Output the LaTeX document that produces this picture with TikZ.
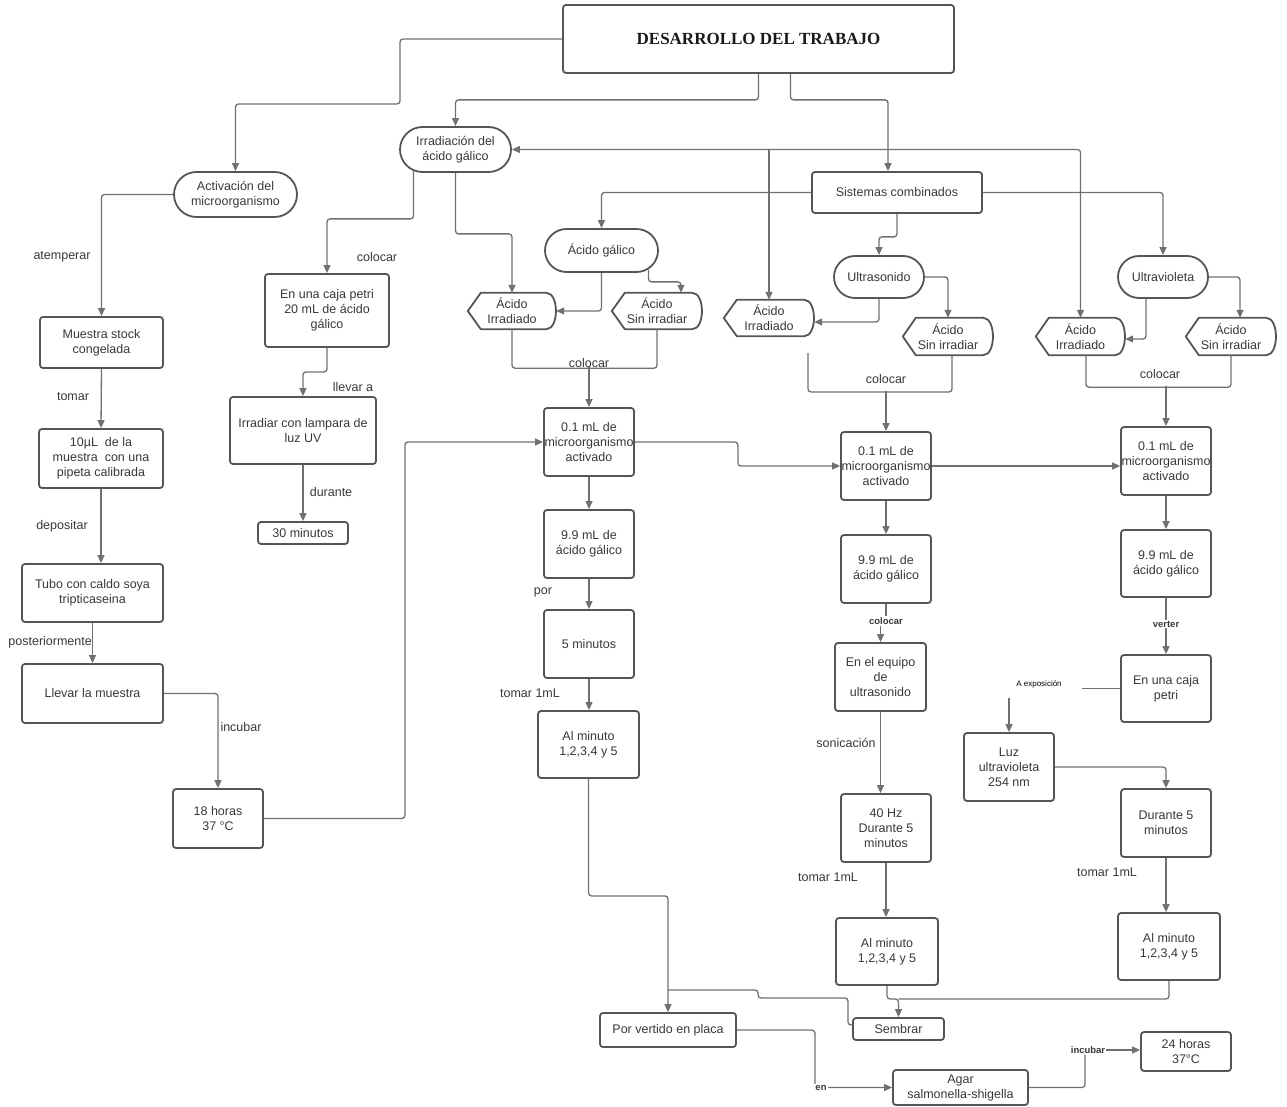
\documentclass[tikz,border=0pt]{standalone}
\usepackage{fontspec}
\setmainfont{Liberation Sans}
\newfontfamily\titlefont{Liberation Serif}
\usetikzlibrary{arrows.meta,shapes.misc,calc}
\definecolor{boxc}{HTML}{555555}
\definecolor{linec}{HTML}{707070}
\definecolor{txtc}{HTML}{383838}
\newcommand{\bxcalc}[4]{%
  \pgfmathsetmacro\bxcx{(#1+#3)/2}%
  \pgfmathsetmacro\bxcy{(#2+#4)/2}%
  \pgfmathsetmacro\bxw{#3-#1}%
  \pgfmathsetmacro\bxh{#4-#2}}
\newcommand{\rbox}[6]{\bxcalc{#2}{#3}{#4}{#5}%
  \node[box,minimum width=\bxw pt,minimum height=\bxh pt] (#1) at (\bxcx,\bxcy) {#6};}
\newcommand{\pbox}[6]{\bxcalc{#2}{#3}{#4}{#5}%
  \node[pill,minimum width=\bxw pt,minimum height=\bxh pt] (#1) at (\bxcx,\bxcy) {#6};}
\newcommand{\hexbox}[6]{\bxcalc{#2}{#3}{#4}{#5}%
  \node[hexs,minimum width=\bxw pt,minimum height=\bxh pt] (#1) at (\bxcx,\bxcy) {#6};
  \draw[hexline] ([xshift=13pt]#1.north west) -- (#1.west) -- ([xshift=13pt]#1.south west)
    -- ([xshift=-10pt]#1.south east) .. controls ([xshift=3pt]#1.south east) and ([xshift=3pt]#1.north east) .. ([xshift=-10pt]#1.north east) -- cycle;}
\begin{document}
\begin{tikzpicture}[x=1pt,y=-1pt,
  every node/.style={font=\fontsize{12.5}{15}\selectfont, text=txtc},
  box/.style={draw=boxc, line width=1.8pt, rounded corners=3pt, inner sep=0pt, align=center},
  pill/.style={draw=boxc, line width=1.8pt, rounded rectangle, inner sep=0pt, align=center},
  hexs/.style={inner sep=0pt, align=center},
  hexline/.style={draw=boxc, line width=1.8pt, line join=round},
  conn/.style={draw=linec, line width=1.3pt, rounded corners=3pt},
  arr/.style={conn, -{Triangle[length=8pt,width=7pt]}},
  dbl/.style={conn, {Triangle[length=8pt,width=7pt]}-{Triangle[length=8pt,width=7pt]}},
  lbl/.style={inner sep=1pt},
  blbl/.style={inner sep=1pt, font=\fontsize{9.5}{11}\selectfont\bfseries},
]
\useasboundingbox (0,0) rectangle (1287,1107);

% ---------- nodes ----------
\bxcalc{563}{5}{954}{73}
\node[box, minimum width=\bxw pt, minimum height=\bxh pt, font=\titlefont\bfseries\fontsize{17}{20}\selectfont, text=black!90] (title) at (\bxcx,\bxcy) {DESARROLLO DEL TRABAJO};

\pbox{act}{174}{172}{297}{217}{Activación del\\microorganismo}
\pbox{irrad}{400}{127}{511}{172}{Irradiación del\\ácido gálico}
\rbox{sist}{812}{172}{982}{213}{Sistemas combinados}
\pbox{agal}{545}{229}{658}{272}{Ácido gálico}
\pbox{ultras}{834}{256}{924}{298}{Ultrasonido}
\pbox{ultrav}{1118}{256}{1208}{298}{Ultravioleta}

\hexbox{irr1}{468}{293}{556}{329}{Ácido\\Irradiado}
\hexbox{sin1}{612}{293}{702}{329}{Ácido\\Sin irradiar}
\hexbox{irr2}{724}{300}{814}{336}{Ácido\\Irradiado}
\hexbox{sin2}{903}{318}{993}{355}{Ácido\\Sin irradiar}
\hexbox{irr3}{1036}{318}{1125}{355}{Ácido\\Irradiado}
\hexbox{sin3}{1186}{318}{1276}{355}{Ácido\\Sin irradiar}

\rbox{muestra}{40}{317}{163}{368}{Muestra stock\\congelada}
\rbox{diez}{39}{429}{163}{488}{10µL\ \ de la\\muestra\ \ con una\\pipeta calibrada}
\rbox{tubo}{22}{564}{163}{622}{Tubo con caldo soya\\tripticaseina}
\rbox{llevar}{22}{664}{163}{723}{Llevar la muestra}
\rbox{diecio}{173}{789}{263}{848}{18 horas\\37 °C}

\rbox{petri}{265}{274}{389}{347}{En una caja petri\\20 mL de ácido\\gálico}
\rbox{irradiar}{230}{397}{376}{464}{Irradiar con lampara de\\luz UV}
\rbox{treinta}{258}{522}{348}{544}{30 minutos}

\rbox{m1}{544}{408}{634}{476}{0.1 mL de\\microorganismo\\activado}
\rbox{b1}{544}{510}{634}{578}{9.9 mL de\\ácido gálico}
\rbox{cinco}{544}{610}{634}{678}{5 minutos}
\rbox{alm1}{538}{711}{639}{778}{Al minuto\\1,2,3,4 y 5}

\rbox{m2}{841}{432}{931}{500}{0.1 mL de\\microorganismo\\activado}
\rbox{b2}{841}{535}{931}{603}{9.9 mL de\\ácido gálico}
\rbox{equipo}{835}{643}{926}{711}{En el equipo\\de\\ultrasonido}
\rbox{hz}{841}{794}{931}{862}{40 Hz\\Durante 5\\minutos}
\rbox{alm2}{836}{918}{938}{985}{Al minuto\\1,2,3,4 y 5}

\rbox{m3}{1121}{427}{1211}{495}{0.1 mL de\\microorganismo\\activado}
\rbox{b3}{1121}{530}{1211}{597}{9.9 mL de\\ácido gálico}
\rbox{caja}{1121}{655}{1211}{722}{En una caja\\petri}
\rbox{luz}{964}{733}{1054}{801}{Luz\\ultravioleta\\254 nm}
\rbox{durante}{1121}{789}{1211}{857}{Durante 5\\minutos}
\rbox{alm3}{1118}{913}{1220}{980}{Al minuto\\1,2,3,4 y 5}

\rbox{vertido}{600}{1013}{736}{1047}{Por vertido en placa}
\rbox{sembrar}{853}{1018}{944}{1040}{Sembrar}
\rbox{agar}{893}{1070}{1028}{1105}{Agar\\salmonella-shigella}
\rbox{veint}{1141}{1032}{1231}{1071}{24 horas\\37°C}

% ---------- small labels used as connector parts ----------
\node[blbl] (lcol) at (886,621) {colocar};
\node[blbl] (lver) at (1166,624) {verter};
\node[blbl] (linc) at (1088,1050) {incubar};
\node[inner sep=1pt, font=\fontsize{8}{9.6}\selectfont, text=black] (lexp) at (1039,684) {A exposición};
\coordinate (stub) at (808,353);
\coordinate (jb) at (668,990);
\coordinate (js) at (898.5,999);

% ---------- connectors ----------
\draw[arr] (title.west) -| (400,104) -| (act.north);
\draw[arr] (title.south) -- ++(0,26) -| (irrad.north);
\draw[arr] ([xshift=32pt]title.south) -- ++(0,26) -| ([xshift=-9pt]sist.north);
\draw[arr] (sist.west) -| (agal.north);
\draw[arr] (sist.south) -- ++(0,23) -| (ultras.north);
\draw[arr] (sist.east) -| (ultrav.north);
\draw[dbl] (irr3.north) |- (irrad.east);
\draw[arr] (irr2.north |- irrad.east) -- (irr2.north);

\draw[arr] (act.west) -| (muestra.north);
\draw[arr] (muestra.south) -- (diez.north);
\draw[arr] (diez.south) -- (diez.south |- tubo.north);
\draw[arr] (tubo.south) -- (llevar.north);
\draw[arr] (llevar.east) -| (diecio.north);
\draw[arr] (diecio.east) -- ++(141,0) |- (m1.west);

\draw[arr] ([xshift=-42pt,yshift=2pt]irrad.south) -- ++(0,48) -| (petri.north);
\draw[arr] (petri.south) -- ++(0,24) -| (irradiar.north);
\draw[arr] (irradiar.south) -- (treinta.north);

\draw[arr] (irrad.south) -- ++(0,61) -| (irr1.north);
\draw[arr] (agal.south) |- (irr1.east);
\draw[arr] ([xshift=47pt,yshift=3pt]agal.south) -- ++(0,12) -| ([xshift=24pt]sin1.north);
\draw[conn] (irr1.south) -- ++(0,39) -| (sin1.south);
\draw[arr] (m1.north) ++(0,-40) -- (m1.north);

\draw[arr] (ultras.south) |- ([yshift=-4pt]irr2.east);
\draw[arr] (ultras.east) -| (sin2.north);
\draw[conn] (stub) -- (808,392) -| ([xshift=4pt]sin2.south);
\draw[arr] (m2.north) ++(0,-40) -- (m2.north);

\draw[arr] ([xshift=-17pt,yshift=1pt]ultrav.south) |- ([yshift=-2.5pt]irr3.east);
\draw[arr] (ultrav.east) -| ([xshift=9pt]sin3.north);
\draw[conn] ([xshift=5.5pt]irr3.south) -- ++(0,32) -| (sin3.south);
\draw[arr] (m3.north) ++(0,-40) -- (m3.north);

\draw[arr] (m1.east) -- ++(103,0) |- (m2.west);
\draw[arr] (m2.east) -- (m2.east -| m3.west);

\draw[arr] (m1.south) -- (b1.north);
\draw[arr] (b1.south) -- (cinco.north);
\draw[arr] (cinco.south) -- (cinco.south |- alm1.north);

\draw[arr] (m2.south) -- (b2.north);
\draw[conn] (b2.south) -- (lcol.north -| b2.south);
\draw[arr] (lcol.south -| equipo.north) -- (equipo.north);
\draw[arr] (equipo.south) -- (equipo.south |- hz.north);
\draw[arr] (hz.south) -- (hz.south |- alm2.north);

\draw[arr] (m3.south) -- (b3.north);
\draw[conn] (b3.south) -- (lver.north -| b3.south);
\draw[arr] (lver.south -| caja.north) -- (caja.north);
\draw[conn] (caja.west) -- ++(-38,0);
\draw[arr] (luz.north) ++(0,-34) -- (luz.north);
\draw[arr] (luz.east) -| (durante.north);
\draw[arr] (durante.south) -- (durante.south |- alm3.north);

\draw[arr] (alm1.south) -- ++(0,117) -| (vertido.north);
\draw[conn] (jb) -- (758,990) -- (758,998) -- (848,998) |- ([yshift=4pt]sembrar.west);
\draw[arr] (alm2.south) |- (js) -- (sembrar.north);
\draw[conn] (alm3.south) |- (js);

\draw[arr] (vertido.east) -- ++(78,0) |- (agar.west);
\draw[conn] (agar.east) -| ([xshift=-3pt]linc.south);
\draw[arr] (linc.east) -- (linc.east -| veint.west);
\node[blbl, fill=white] (len) at (821,1088) {en};

% ---------- edge labels ----------
\node[lbl] at (62,257) {atemperar};
\node[lbl] at (73,397) {tomar};
\node[lbl] at (62,526) {depositar};
\node[lbl, anchor=east, inner sep=0pt] at (92,642) {posteriormente};
\node[lbl] at (241,727) {incubar};
\node[lbl] at (377,257) {colocar};
\node[lbl] at (353,387) {llevar a};
\node[lbl] at (331,492) {durante};
\node[lbl] at (589,363) {colocar};
\node[lbl] at (543,592) {por};
\node[lbl] at (530,693) {tomar 1mL};
\node[lbl] at (886,379) {colocar};
\node[lbl] at (1160,374) {colocar};
\node[lbl] at (846,743) {sonicación};
\node[lbl] at (828,877) {tomar 1mL};
\node[lbl] at (1107,872) {tomar 1mL};
\end{tikzpicture}
\end{document}
